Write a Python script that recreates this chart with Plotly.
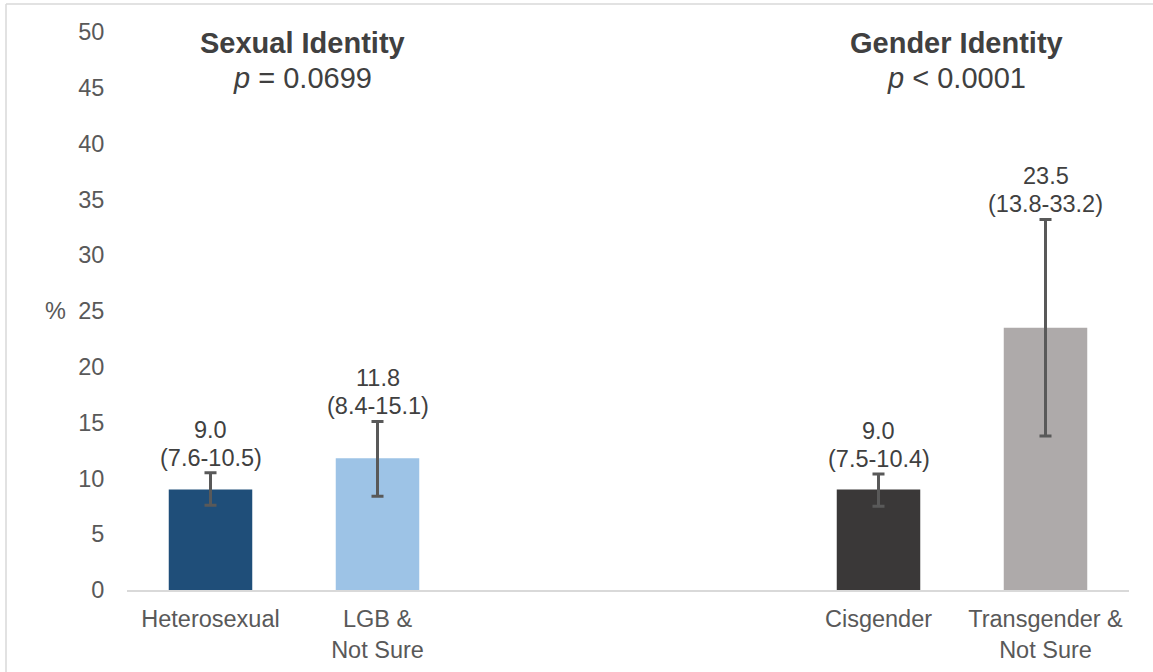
import plotly.graph_objects as go

# Prevalence (%) with 95% confidence intervals by identity group
group_positions = [0, 1, 4, 5]
group_labels = ["Heterosexual", "LGB &<br>Not Sure", "Cisgender", "Transgender &<br>Not Sure"]
estimates = [9.0, 11.8, 9.0, 23.5]
ci_low = [7.6, 8.4, 7.5, 13.8]
ci_high = [10.5, 15.1, 10.4, 33.2]
bar_colors = ["#1f4e79", "#9dc3e6", "#3a3838", "#aeaaaa"]

panel_titles = ["Sexual Identity", "Gender Identity"]
panel_pvalues = ["<i>p</i> = 0.0699", "<i>p</i> < 0.0001"]
panel_centers = [0.55, 4.47]

y_ticks = [0, 5, 10, 15, 20, 25, 30, 35, 40, 45, 50]

FONT = "Liberation Sans, Arial, sans-serif"
SMALL = 23.5
BIG = 29

L, R, T, B = 127, 24, 32, 82
W, H = 1153, 672
pw, ph = W - L - R, H - T - B


def px_to_paper_x(px):
    return (px - L) / pw


def py_to_paper_y(py):
    return (H - B - py) / ph


fig = go.Figure()
fig.add_trace(go.Bar(
    x=group_positions,
    y=estimates,
    width=0.5,
    marker=dict(color=bar_colors, line=dict(width=0)),
    error_y=dict(
        type="data",
        symmetric=False,
        array=[h - e for h, e in zip(ci_high, estimates)],
        arrayminus=[e - l for e, l in zip(estimates, ci_low)],
        color="#595959",
        thickness=3,
        width=6,
    ),
    hoverinfo="skip",
    showlegend=False,
))

annotations = []
# value and CI labels stacked above each error bar
for x, e, lo, hi in zip(group_positions, estimates, ci_low, ci_high):
    annotations.append(dict(
        x=x, y=hi, xref="x", yref="y",
        text=f"({lo:.1f}-{hi:.1f})",
        showarrow=False, xanchor="center", yanchor="bottom", yshift=0,
        font=dict(family=FONT, size=SMALL, color="#404040"),
    ))
    annotations.append(dict(
        x=x, y=hi, xref="x", yref="y",
        text=f"{e:.1f}",
        showarrow=False, xanchor="center", yanchor="bottom", yshift=28,
        font=dict(family=FONT, size=SMALL, color="#404040"),
    ))

# panel headings
for cx, title, pv in zip(panel_centers, panel_titles, panel_pvalues):
    annotations.append(dict(
        x=cx, y=py_to_paper_y(43), xref="x", yref="paper",
        xanchor="center", yanchor="middle",
        text=f"<b>{title}</b>", showarrow=False,
        font=dict(family=FONT, size=BIG, color="#404040"),
    ))
    annotations.append(dict(
        x=cx, y=py_to_paper_y(78), xref="x", yref="paper",
        xanchor="center", yanchor="middle",
        text=pv, showarrow=False,
        font=dict(family=FONT, size=BIG, color="#404040"),
    ))

# y-axis unit label
annotations.append(dict(
    x=px_to_paper_x(55), y=25, xref="paper", yref="y",
    xanchor="center", yanchor="middle",
    text="%", showarrow=False,
    font=dict(family=FONT, size=SMALL, color="#595959"),
))

shapes = [
    # outer frame (top and left edges)
    dict(type="line", xref="paper", yref="paper",
         x0=px_to_paper_x(6), x1=px_to_paper_x(1160),
         y0=py_to_paper_y(4), y1=py_to_paper_y(4),
         line=dict(color="#d9d9d9", width=1.5)),
    dict(type="line", xref="paper", yref="paper",
         x0=px_to_paper_x(6), x1=px_to_paper_x(6),
         y0=py_to_paper_y(4), y1=py_to_paper_y(680),
         line=dict(color="#d9d9d9", width=1.5)),
]

fig.update_layout(
    width=W, height=H,
    margin=dict(l=L, r=R, t=T, b=B, pad=0, autoexpand=False),
    paper_bgcolor="white",
    plot_bgcolor="white",
    annotations=annotations,
    shapes=shapes,
    font=dict(family=FONT, size=SMALL, color="#595959"),
)
fig.update_xaxes(
    range=[-0.5, 5.5],
    tickmode="array",
    tickvals=group_positions,
    ticktext=group_labels,
    showgrid=False,
    zeroline=False,
    showline=True,
    linecolor="#d9d9d9",
    linewidth=2,
    ticks="",
    ticklabelstandoff=7,
    automargin=False,
    tickfont=dict(family=FONT, size=SMALL, color="#595959"),
)
fig.update_yaxes(
    range=[0, 50],
    tickmode="array",
    tickvals=y_ticks,
    showgrid=False,
    zeroline=False,
    showline=False,
    ticks="outside",
    ticklen=17,
    tickcolor="rgba(0,0,0,0)",
    automargin=False,
    tickfont=dict(family=FONT, size=SMALL, color="#595959"),
)

fig.write_html("out.html")
